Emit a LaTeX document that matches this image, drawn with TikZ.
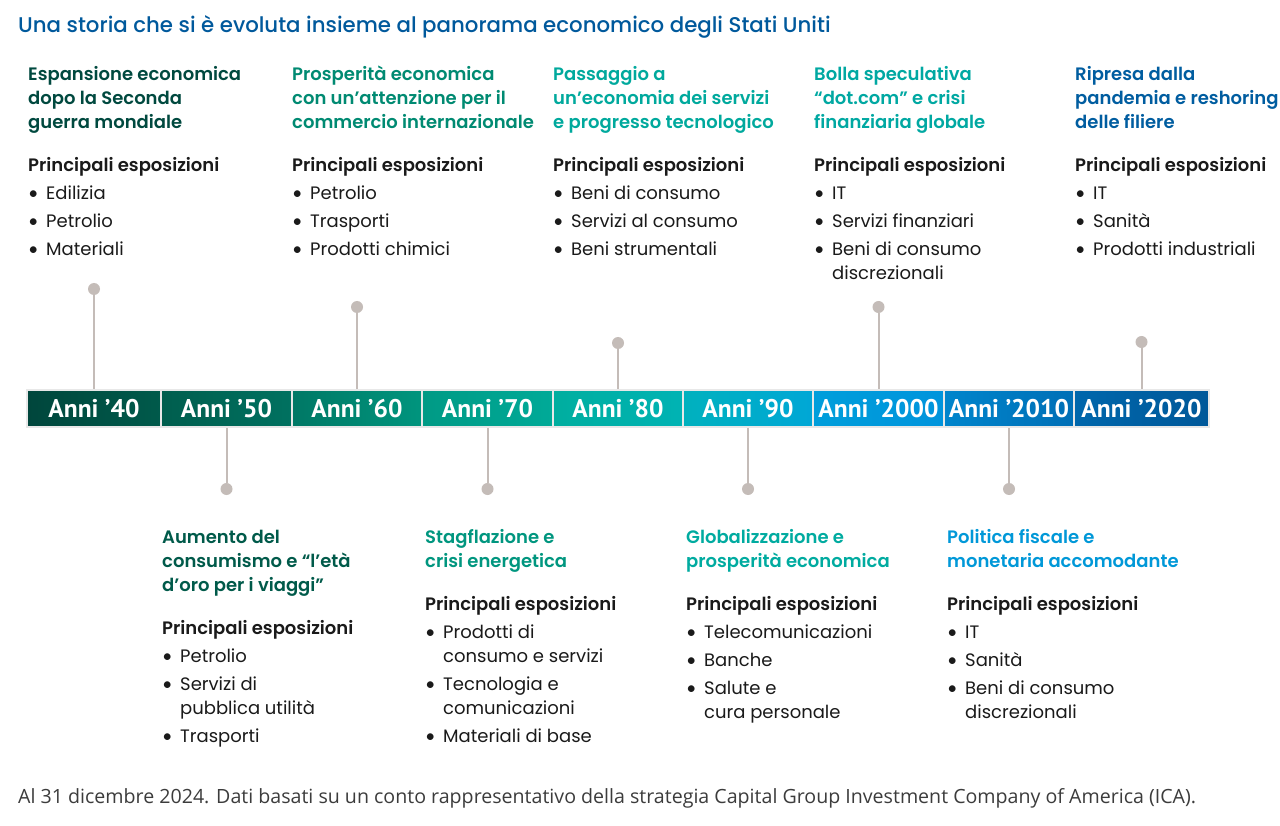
\documentclass[tikz,border=0pt]{standalone}
\usepackage{fontspec}
\setmainfont{Poppins}[BoldFont={Poppins SemiBold}]
\newfontfamily\condfont{PT Sans}
\newfontfamily\footfont{Open Sans}
\newfontfamily\bulfont{Lato}
\newfontfamily\titlefont{Poppins Medium}
\definecolor{ink}{HTML}{1A1A1A}
\definecolor{titlec}{HTML}{00599C}
\definecolor{pinc}{HTML}{C4BCB8}
\definecolor{hA}{HTML}{00493F}
\definecolor{hB}{HTML}{005A4A}
\definecolor{hC}{HTML}{008A72}
\definecolor{hD}{HTML}{00967F}
\definecolor{hE}{HTML}{00A99D}
\definecolor{hF}{HTML}{00ABA0}
\definecolor{hG}{HTML}{00A8A2}
\definecolor{hH}{HTML}{0098D8}
\definecolor{hI}{HTML}{005DA0}
\definecolor{aL}{HTML}{00463C}\definecolor{aR}{HTML}{005A4B}
\definecolor{bL}{HTML}{005E4E}\definecolor{bR}{HTML}{007160}
\definecolor{cL}{HTML}{007865}\definecolor{cR}{HTML}{00957E}
\definecolor{dL}{HTML}{009A85}\definecolor{dR}{HTML}{00AA98}
\definecolor{eL}{HTML}{00AE9F}\definecolor{eR}{HTML}{00B3B4}
\definecolor{fL}{HTML}{00B1BE}\definecolor{fR}{HTML}{00A7D6}
\definecolor{gL}{HTML}{009EDB}\definecolor{gR}{HTML}{0094DC}
\definecolor{iL}{HTML}{0085CC}\definecolor{iR}{HTML}{006FB6}
\definecolor{jL}{HTML}{0067AC}\definecolor{jR}{HTML}{005899}
\newcommand\tp{\rule{0pt}{18pt}}
\newcommand\myb{\makebox[18pt][l]{\bulfont\textbullet}}
\newcommand\myi{\hspace*{18pt}}
\tikzset{
  hd/.style={anchor=north west, inner sep=0, align=left, font=\fontsize{18}{24}\selectfont\bfseries},
  pe/.style={anchor=north west, inner sep=0, font=\fontsize{18}{24}\selectfont\bfseries, text=ink},
  ls/.style={anchor=north west, inner sep=0, align=left, font=\fontsize{18}{24}\selectfont, text=ink},
  seg/.style={draw=white!82!gray, line width=1.2pt, minimum height=37, inner sep=0, text=white, font=\condfont\fontsize{25.5}{26}\selectfont\bfseries},
  pin/.style={circle, fill=pinc, inner sep=0, minimum size=12},
  pinl/.style={draw=pinc, line width=2pt}
}
\begin{document}
\begin{tikzpicture}[x=1pt,y=-1pt]
\useasboundingbox (0,0) rectangle (1280,826);
\fill[white] (0,0) rectangle (1280,826);
% title
\node[anchor=north west, inner sep=0, text=titlec, font=\titlefont\fontsize{21.3}{24}\selectfont] (title) at (18,14.5) {\tp Una storia che si è evoluta insieme al panorama economico degli Stati Uniti};
% bar segments
\node[seg, minimum width=134, shade, left color=aL, right color=aR] (s1) at (94,408.5) {Anni ’40};
\node[seg, minimum width=131, shade, left color=bL, right color=bR] (s2) at (226.5,408.5) {Anni ’50};
\node[seg, minimum width=130, shade, left color=cL, right color=cR] (s3) at (357,408.5) {Anni ’60};
\node[seg, minimum width=131, shade, left color=dL, right color=dR] (s4) at (487.5,408.5) {Anni ’70};
\node[seg, minimum width=130, shade, left color=eL, right color=eR] (s5) at (618,408.5) {Anni ’80};
\node[seg, minimum width=130, shade, left color=fL, right color=fR] (s6) at (748,408.5) {Anni ’90};
\node[seg, minimum width=131, shade, left color=gL, right color=gR] (s7) at (878.5,408.5) {Anni ’2000};
\node[seg, minimum width=130, shade, left color=iL, right color=iR] (s8) at (1009,408.5) {Anni ’2010};
\node[seg, minimum width=135, shade, left color=jL, right color=jR] (s9) at (1141.5,408.5) {Anni ’2020};
% pins
\node[pin] (p1) at (94,289) {};
\node[pin] (p2) at (226.5,489) {};
\node[pin] (p3) at (357,307) {};
\node[pin] (p4) at (487.5,489) {};
\node[pin] (p5) at (618,343) {};
\node[pin] (p6) at (748,489) {};
\node[pin] (p7) at (878.5,307) {};
\node[pin] (p8) at (1009,489) {};
\node[pin] (p9) at (1141.5,342) {};
\draw[pinl] (p1) -- (s1.north);
\draw[pinl] (p3) -- (s3.north);
\draw[pinl] (p5) -- (s5.north);
\draw[pinl] (p7) -- (s7.north);
\draw[pinl] (p9) -- (s9.north);
\draw[pinl] (p2) -- (s2.south);
\draw[pinl] (p4) -- (s4.south);
\draw[pinl] (p6) -- (s6.south);
\draw[pinl] (p8) -- (s8.south);
% column 1 (top)
\node[hd, text=hA] (h1) at (28,62) {\tp Espansione economica\\dopo la Seconda\\guerra mondiale};
\node[pe] (e1) at (28,153) {\tp Principali esposizioni};
\node[ls] (l1) at (28,181) {\tp\myb Edilizia\\[4pt]\myb Petrolio\\[4pt]\myb Materiali};
% column 3 (top)
\node[hd, text=hC] (h3) at (292,62) {\tp Prosperità economica\\con un’attenzione per il\\commercio internazionale};
\node[pe] (e3) at (292,153) {\tp Principali esposizioni};
\node[ls] (l3) at (292,181) {\tp\myb Petrolio\\[4pt]\myb Trasporti\\[4pt]\myb Prodotti chimici};
% column 5 (top)
\node[hd, text=hE] (h5) at (553,62) {\tp Passaggio a\\un’economia dei servizi\\e progresso tecnologico};
\node[pe] (e5) at (553,153) {\tp Principali esposizioni};
\node[ls] (l5) at (553,181) {\tp\myb Beni di consumo\\[4pt]\myb Servizi al consumo\\[4pt]\myb Beni strumentali};
% column 7 (top)
\node[hd, text=hG] (h7) at (814,62) {\tp Bolla speculativa\\“dot.com” e crisi\\finanziaria globale};
\node[pe] (e7) at (814,153) {\tp Principali esposizioni};
\node[ls] (l7) at (814,181) {\tp\myb IT\\[4pt]\myb Servizi finanziari\\[4pt]\myb Beni di consumo\\\myi discrezionali};
% column 9 (top)
\node[hd, text=hI] (h9) at (1075,62) {\tp Ripresa dalla\\pandemia e reshoring\\delle filiere};
\node[pe] (e9) at (1075,153) {\tp Principali esposizioni};
\node[ls] (l9) at (1075,181) {\tp\myb IT\\[4pt]\myb Sanità\\[4pt]\myb Prodotti industriali};
% column 2 (bottom)
\node[hd, text=hB] (h2) at (162,525) {\tp Aumento del\\consumismo e “l’età\\d’oro per i viaggi”};
\node[pe] (e2) at (162,616) {\tp Principali esposizioni};
\node[ls] (l2) at (162,644) {\tp\myb Petrolio\\[4pt]\myb Servizi di\\\myi pubblica utilità\\[4pt]\myb Trasporti};
% column 4 (bottom)
\node[hd, text=hD] (h4) at (425,525) {\tp Stagflazione e\\crisi energetica};
\node[pe] (e4) at (425,592) {\tp Principali esposizioni};
\node[ls] (l4) at (425,620) {\tp\myb Prodotti di\\\myi consumo e servizi\\[4pt]\myb Tecnologia e\\\myi comunicazioni\\[4pt]\myb Materiali di base};
% column 6 (bottom)
\node[hd, text=hF] (h6) at (686,525) {\tp Globalizzazione e\\prosperità economica};
\node[pe] (e6) at (686,592) {\tp Principali esposizioni};
\node[ls] (l6) at (686,620) {\tp\myb Telecomunicazioni\\[4pt]\myb Banche\\[4pt]\myb Salute e\\\myi cura personale};
% column 8 (bottom)
\node[hd, text=hH] (h8) at (947,525) {\tp Politica fiscale e\\monetaria accomodante};
\node[pe] (e8) at (947,592) {\tp Principali esposizioni};
\node[ls] (l8) at (947,620) {\tp\myb IT\\[4pt]\myb Sanità\\[4pt]\myb Beni di consumo\\\myi discrezionali};
% footer
\node[anchor=north west, inner sep=0, text=ink!85, font=\footfont\fontsize{19.6}{22}\selectfont] (foot) at (18,785.5) {\tp Al 31 dicembre 2024. Dati basati su un conto rappresentativo della strategia Capital Group Investment Company of America (ICA).};
\end{tikzpicture}
\end{document}
